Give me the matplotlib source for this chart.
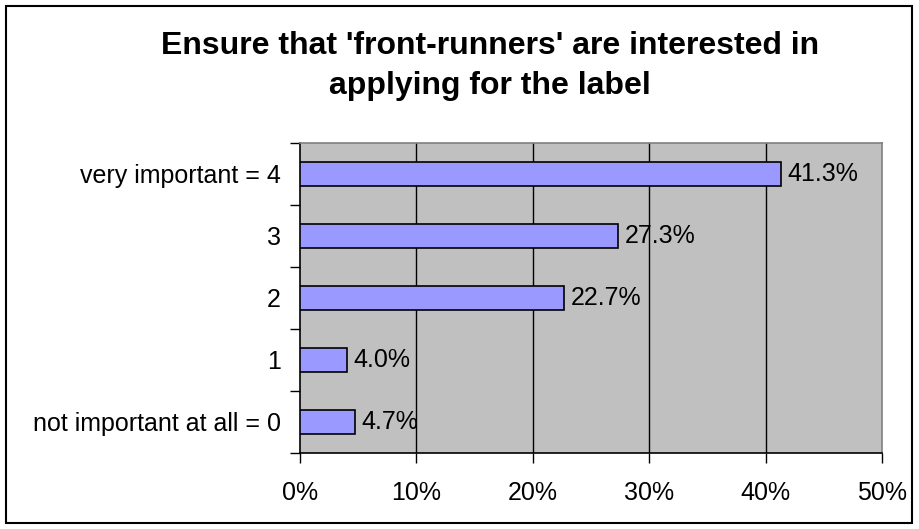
import matplotlib
matplotlib.use("Agg")
import matplotlib.pyplot as plt
from matplotlib.patches import Rectangle

plt.rcParams['font.family'] = ['Liberation Sans', 'DejaVu Sans']

categories = ["not important at all = 0", "1", "2", "3", "very important = 4"]
values = [4.7, 4.0, 22.7, 27.3, 41.3]
xticks = [0, 10, 20, 30, 40, 50]
xtick_labels = ["0%", "10%", "20%", "30%", "40%", "50%"]
title = "Ensure that 'front-runners' are interested in\napplying for the label"

W, H = 919, 529
fig = plt.figure(figsize=(W/100, H/100), dpi=100)
fig.patches.append(Rectangle((6/W, 6/H), (912-6)/W, (523-6)/H, transform=fig.transFigure,
                             fill=False, edgecolor='black', linewidth=1.5))

left, right, top, bottom = 300, 882, 143, 453
ax = fig.add_axes([left/W, 1-bottom/H, (right-left)/W, (bottom-top)/H])
ax.set_facecolor('#C0C0C0')

fs = 18
y = list(range(len(categories)))
ax.barh(y, values, height=0.4, color='#9999FF', edgecolor='black', linewidth=1.2, zorder=3)
for yi, v in zip(y, values):
    ax.text(v + 0.6, yi, f"{v:.1f}%", va='center', ha='left', fontsize=fs, zorder=4)

ax.set_xlim(0, 50)
ax.set_ylim(-0.5, len(categories) - 0.5)
ax.set_xticks(xticks)
ax.set_xticklabels(xtick_labels, fontsize=fs)
for xv in xticks[1:-1]:
    ax.axvline(xv, color='black', linewidth=1, zorder=1)

ax.set_yticks(y)
ax.set_yticklabels(categories, fontsize=fs)
ax.tick_params(axis='y', length=0, pad=14)
ax.set_yticks([i - 0.5 for i in range(len(categories) + 1)], minor=True)
ax.tick_params(axis='y', which='minor', length=7, width=1, direction='out', color='black')
ax.tick_params(axis='x', length=7, width=1, direction='out', pad=13)

for s in ['left', 'bottom']:
    ax.spines[s].set_color('black')
    ax.spines[s].set_linewidth(1.2)
for s in ['top', 'right']:
    ax.spines[s].set_color('#808080')
    ax.spines[s].set_linewidth(1.2)

fig.text(490/W, 1-66/H, title, ha='center', va='center', fontsize=23, fontweight='bold',
         linespacing=1.45)

fig.savefig("out.png", dpi=100)
